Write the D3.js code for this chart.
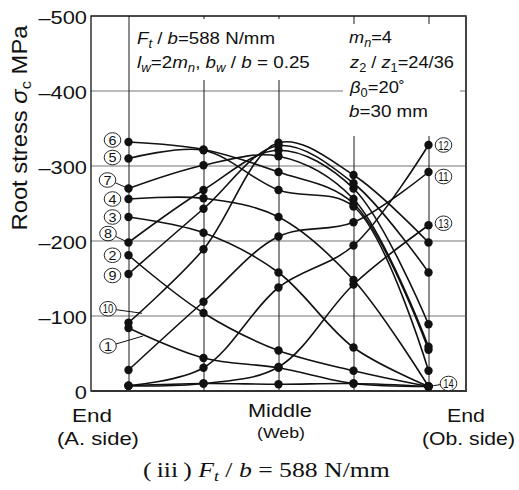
<!DOCTYPE html>
<html>
<head>
<meta charset="utf-8">
<script src="https://cdn.jsdelivr.net/npm/d3@7"></script>
<style>
  body { margin: 0; background: #fff; }
  svg { display: block; }
</style>
</head>
<body>
<svg id="chart" width="519" height="490"></svg>
<script>
// Root stress sigma_c (MPa, compressive = negative) at five stations across the face width,
// for fourteen successive meshing positions (1 … 14).
const stations = [0, 1, 2, 3, 4];
const yTicks = [0, -100, -200, -300, -400, -500];
const tagNames = ["1", "2", "3", "4", "5", "6", "7", "8", "9", "10", "11", "12", "13", "14"];

const s01 = [-84, -44, -31, -10, -6];
const s02 = [-181, -104, -54, -27, -6];
const s03 = [-232, -211, -158, -58, -6];
const s04 = [-256, -257, -232, -148, -6];
const s05 = [-310, -321, -268, -246, -27];
const s06 = [-332, -322, -292, -250, -55];
const s07 = [-270, -301, -313, -256, -59];
const s08 = [-198, -268, -321, -270, -89];
const s09 = [-156, -243, -327, -277, -158];
const s10 = [-91, -189, -331, -288, -198];
const s11 = [-28, -119, -206, -225, -292];
const s12 = [-7, -31, -138, -194, -328];
const s13 = [-7, -10, -32, -142, -221];
const s14 = [-7, -10, -9, -10, -6];
const series = [s01, s02, s03, s04, s05, s06, s07, s08, s09, s10, s11, s12, s13, s14];

const sans = "'Liberation Sans', Arial, Helvetica, sans-serif";
const serif = "'Liberation Serif', 'Times New Roman', serif";

const svg = d3.select("#chart");
const x = d3.scaleLinear().domain([-0.5, 4.5]).range([91, 466]);
const y = d3.scaleLinear().domain([0, -500]).range([391, 16]);
const [x0, x1] = x.range();
const [yb, yt] = y.range();

// ---- grid ----
const grid = svg.append("g");
grid.selectAll("line.h")
  .data(yTicks.filter(v => v !== 0 && v !== -500))
  .join("line").attr("class", "h")
  .attr("x1", x0).attr("x2", x1)
  .attr("y1", d => y(d)).attr("y2", d => y(d))
  .attr("stroke", "#777").attr("stroke-width", 1.2);
grid.selectAll("line.v")
  .data(stations)
  .join("line").attr("class", "v")
  .attr("x1", d => x(d) + 0.5).attr("x2", d => x(d) + 0.5)
  .attr("y1", yt).attr("y2", yb)
  .attr("stroke", "#1a1a1a").attr("stroke-width", 1);

// blank panels behind the parameter notes
svg.append("rect").attr("x", 133).attr("y", 19).attr("width", 192).attr("height", 61).attr("fill", "#fff");
svg.append("rect").attr("x", 343).attr("y", 24).attr("width", 117).attr("height", 112).attr("fill", "#fff");

// ---- frame ----
svg.append("path")
  .attr("d", `M${x0},${yt}H${x1}V${yb}H${x0}Z`)
  .attr("fill", "none").attr("stroke", "#111").attr("stroke-width", 1.3);
svg.append("line").attr("x1", x0).attr("x2", x1 + 1).attr("y1", yb).attr("y2", yb)
  .attr("stroke", "#333").attr("stroke-width", 2.2);
svg.append("line").attr("x1", x1).attr("x2", x1).attr("y1", yt).attr("y2", yb)
  .attr("stroke", "#444").attr("stroke-width", 2);

// ---- y tick labels ----
const yAxis = d3.axisLeft(y).tickValues(yTicks).tickSize(0).tickPadding(0)
  .tickFormat(d => d === 0 ? "0" : "\u2013" + Math.abs(d));
const yg = svg.append("g").attr("transform", `translate(${x0},0)`).call(yAxis);
yg.select(".domain").remove();
yg.selectAll(".tick text")
  .attr("font-family", sans).attr("font-size", 19).attr("fill", "#111")
  .attr("dy", null).attr("x", 0).attr("y", 0)
  .attr("dominant-baseline", "auto")
  .attr("transform", "translate(-4,7) scale(1.15,1)");

// ---- curves ----
const line = d3.line()
  .x((d, i) => x(stations[i]))
  .y(d => y(d))
  .curve(d3.curveCatmullRom.alpha(0.5));
svg.append("g").selectAll("path")
  .data(series)
  .join("path")
  .attr("d", line)
  .attr("fill", "none").attr("stroke", "#111").attr("stroke-width", 1.6);

// ---- points ----
const pts = series.flatMap((s, k) => s.map((v, i) => ({ k, i, v })));
svg.append("g").selectAll("circle")
  .data(pts)
  .join("circle")
  .attr("cx", d => x(stations[d.i]))
  .attr("cy", d => y(d.v))
  .attr("r", 4.2)
  .attr("fill", "#111");

// ---- circled meshing-position tags ----
// col: station the tag sits next to; (dx, dy): tag centre relative to that point;
// lead: optional leader end relative to the same point.
const tagLayout = [
  { col: 0, dx: -20.5, dy: 18, lead: [14.5, 8] },
  { col: 0, dx: -16, dy: 0 },
  { col: 0, dx: -16, dy: 0 },
  { col: 0, dx: -16, dy: 0 },
  { col: 0, dx: -16, dy: -1 },
  { col: 0, dx: -16, dy: -2 },
  { col: 0, dx: -21, dy: -8.5, lead: [0, 0] },
  { col: 0, dx: -20.5, dy: -9, lead: [0, 0] },
  { col: 0, dx: -16, dy: 1.5 },
  { col: 0, dx: -20.5, dy: -14, lead: [13.5, -9.5] },
  { col: 4, dx: 15, dy: 4.5 },
  { col: 4, dx: 15, dy: 0 },
  { col: 4, dx: 15, dy: -2 },
  { col: 4, dx: 20, dy: -3, lead: [0, 0] }
];
const rx = 8.3, ry = 7.3;
const tags = svg.append("g");
tagNames.forEach((name, k) => {
  const L = tagLayout[k];
  const px = x(stations[L.col]), py = y(series[k][L.col]);
  const cx = px + L.dx, cy = py + L.dy;
  if (L.lead) {
    const tx = px + L.lead[0], ty = py + L.lead[1];
    const a = Math.atan2(ty - cy, tx - cx);
    tags.append("line")
      .attr("x1", cx + rx * Math.cos(a)).attr("y1", cy + ry * Math.sin(a))
      .attr("x2", tx).attr("y2", ty)
      .attr("stroke", "#111").attr("stroke-width", 1);
  }
  tags.append("ellipse")
    .attr("cx", cx).attr("cy", cy).attr("rx", rx).attr("ry", ry)
    .attr("fill", "#fff").attr("stroke", "#111").attr("stroke-width", 0.9);
  const t = tags.append("text")
    .attr("x", cx).attr("y", cy + 4.6)
    .attr("text-anchor", "middle")
    .attr("font-family", sans).attr("font-size", 13).attr("fill", "#111")
    .text(name);
  if (name.length > 1) t.attr("textLength", 10.5).attr("lengthAdjust", "spacingAndGlyphs");
  else t.attr("textLength", 8).attr("lengthAdjust", "spacingAndGlyphs");
});

// ---- text helper: rich text stretched to a given width ----
function richText(parent, segs, { left, base, width, size, family, fill = "#111" }) {
  const g = parent.append("g");
  const t = g.append("text")
    .attr("font-family", family).attr("font-size", size).attr("fill", fill)
    .attr("x", 0).attr("y", 0);
  let shift = 0;
  segs.forEach(([txt, st]) => {
    const sp = t.append("tspan").text(txt);
    if (st.includes("i")) sp.attr("font-style", "italic");
    const sub = st.includes("s") ? 4 : 0;
    if (sub !== shift) { sp.attr("dy", sub - shift); shift = sub; }
    if (sub) sp.attr("font-size", size * 0.7);
  });
  const bb = t.node().getBBox();
  const s = width / bb.width;
  g.attr("transform", `translate(${left - bb.x * s},${base}) scale(${s},1)`);
  return g;
}

// ---- parameter notes ----
const notes = svg.append("g");
const nf = { size: 17, family: sans };
richText(notes, [["F", "i"], ["t", "si"], [" / ", ""], ["b", "i"], ["=588 N/mm", ""]],
  { ...nf, left: 137, base: 44, width: 138 });
richText(notes, [["l", "i"], ["w", "si"], ["=2", ""], ["m", "i"], ["n", "si"], [", ", ""],
  ["b", "i"], ["w", "si"], [" / ", ""], ["b", "i"], [" = 0.25", ""]],
  { ...nf, left: 137, base: 68, width: 173 });
richText(notes, [["m", "i"], ["n", "si"], ["=4", ""]],
  { ...nf, left: 349, base: 43, width: 43 });
richText(notes, [["z", "i"], ["2", "s"], [" / ", ""], ["z", "i"], ["1", "s"], ["=24/36", ""]],
  { ...nf, left: 349, base: 68, width: 105 });
richText(notes, [["\u03b2", "i"], ["0", "s"], ["=20\u02da", ""]],
  { ...nf, left: 349, base: 93, width: 56 });
richText(notes, [["b", "i"], ["=30 mm", ""]],
  { ...nf, left: 349, base: 117, width: 79 });

// ---- station labels ----
const xl = svg.append("g");
const xf = { size: 18.5, family: sans };
richText(xl, [["End", ""]], { ...xf, left: 72, base: 422, width: 40 });
richText(xl, [["(A. side)", ""]], { ...xf, left: 57, base: 445, width: 82 });
richText(xl, [["Middle", ""]], { ...xf, left: 248, base: 417, width: 64 });
richText(xl, [["(Web)", ""]], { size: 14.5, family: sans, left: 257, base: 438, width: 48 });
richText(xl, [["End", ""]], { ...xf, left: 447, base: 422, width: 38 });
richText(xl, [["(Ob. side)", ""]], { ...xf, left: 422, base: 445, width: 93 });

// ---- y axis title (rotated) ----
const yt0 = svg.append("g").attr("transform", "translate(27,128) rotate(-90)");
const ytitle = yt0.append("text")
  .attr("font-family", sans).attr("font-size", 21.5).attr("fill", "#111")
  .attr("text-anchor", "middle").attr("x", 0).attr("y", 0)
  .attr("textLength", 205).attr("lengthAdjust", "spacingAndGlyphs");
ytitle.append("tspan").text("Root stress ");
ytitle.append("tspan").text("\u03c3").attr("font-style", "italic");
ytitle.append("tspan").text("c").attr("font-size", 15).attr("dy", 4);
ytitle.append("tspan").text(" MPa").attr("dy", -4);

// ---- caption ----
richText(svg, [["(\u2009iii\u2009) ", ""], ["F", "i"], ["t", "si"], [" / ", ""], ["b", "i"], [" = 588 N/mm", ""]],
  { size: 22, family: serif, left: 143, base: 477, width: 247 });
</script>
</body>
</html>
